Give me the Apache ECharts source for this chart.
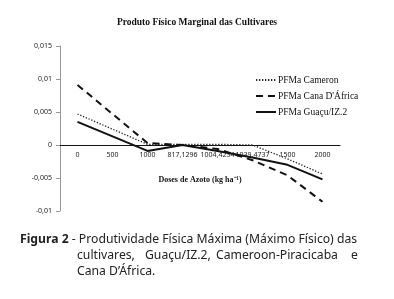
<!DOCTYPE html>
<html>
<head>
<meta charset="utf-8">
<script src="https://cdn.jsdelivr.net/npm/echarts@6/dist/echarts.min.js"></script>
<style>
  html, body { margin: 0; padding: 0; background: #fff; }
  #chart { width: 394px; height: 299px; }
</style>
</head>
<body>
<div id="chart"></div>
<script>
const doses = ['0', '500', '1000', '817,1296', '1004,4234', '1039,4737', '1500', '2000']
const cameron = [0.0047, 0.0024, 0.0001, 0.0001, 0.0001, 0.0000, -0.0021, -0.0044]
const canaAfrica = [0.0091, 0.0047, 0.0003, 0.0000, -0.0006, -0.0023, -0.0046, -0.0086]
const guacu = [0.0035, 0.0013, -0.0009, 0.0000, -0.0009, -0.0019, -0.0030, -0.0052]

const serif = '"Liberation Serif", serif'
const sans = '"Noto Sans", sans-serif'

const chart = echarts.init(document.getElementById('chart'))

const capText = (text, x, y, extra) => ({
  type: 'text',
  left: x,
  top: y,
  style: Object.assign({
    text: text,
    font: '12.2px ' + sans,
    fill: '#222'
  }, extra || {})
})

const option = {
  animation: false,
  color: ['#222', '#111', '#111'],
  title: {
    text: 'Produto Físico Marginal das Cultivares',
    left: 'center',
    top: 13,
    textStyle: { fontFamily: serif, fontSize: 9.5, fontWeight: 'bold', color: '#111' }
  },
  legend: {
    orient: 'vertical',
    left: 250,
    top: 70,
    itemWidth: 20,
    itemHeight: 8,
    itemGap: 6,
    itemStyle: { opacity: 0 },
    textStyle: { fontFamily: serif, fontSize: 9.5, color: '#111', padding: [0, 0, 0, -3] },
    data: ['PFMa Cameron', "PFMa Cana D'África", 'PFMa Guaçu/IZ.2']
  },
  grid: { left: 60, right: 54, top: 46, bottom: 88 },
  xAxis: {
    type: 'category',
    data: doses,
    boundaryGap: true,
    offset: -66,
    name: 'Doses de Azoto (kg ha⁻¹)',
    nameLocation: 'middle',
    nameGap: 31,
    nameTextStyle: { fontFamily: serif, fontSize: 8, fontWeight: 'bold', color: '#111' },
    axisLine: { onZero: false, lineStyle: { color: '#111', width: 1 } },
    axisTick: { alignWithLabel: false, length: 4, lineStyle: { color: '#111' } },
    axisLabel: { fontFamily: sans, fontSize: 7, color: '#222', margin: 6, interval: 0 },
    splitLine: { show: false }
  },
  yAxis: {
    type: 'value',
    min: -0.01,
    max: 0.015,
    interval: 0.005,
    axisLine: { show: true, lineStyle: { color: '#999' } },
    axisTick: { show: true, length: 4, lineStyle: { color: '#999' } },
    axisLabel: {
      fontFamily: sans,
      fontSize: 7,
      color: '#222',
      margin: 8,
      formatter: v => String(+v.toFixed(4)).replace('.', ',')
    },
    splitLine: { show: false }
  },
  series: [
    {
      name: 'PFMa Cameron',
      type: 'line',
      data: cameron,
      symbol: 'none',
      lineStyle: { color: '#222', width: 1.3, type: [1.3, 1.7] }
    },
    {
      name: "PFMa Cana D'África",
      type: 'line',
      data: canaAfrica,
      symbol: 'none',
      lineStyle: { color: '#111', width: 2, type: [7, 5] }
    },
    {
      name: 'PFMa Guaçu/IZ.2',
      type: 'line',
      data: guacu,
      symbol: 'none',
      lineStyle: { color: '#111', width: 2 }
    }
  ],
  graphic: [
    capText('{b|Figura 2} - Produtividade Física Máxima (Máximo Físico) das', 20, 234, {
      rich: { b: { font: 'bold 12.2px ' + sans, fill: '#222' } }
    }),
    capText('cultivares,', 77, 250),
    capText('Guaçu/IZ.2,', 145, 250),
    capText('Cameroon-Piracicaba', 216, 250),
    capText('e', 351, 250),
    capText('Cana D’África.', 77, 266)
  ]
}

chart.setOption(option)
</script>
</body>
</html>
